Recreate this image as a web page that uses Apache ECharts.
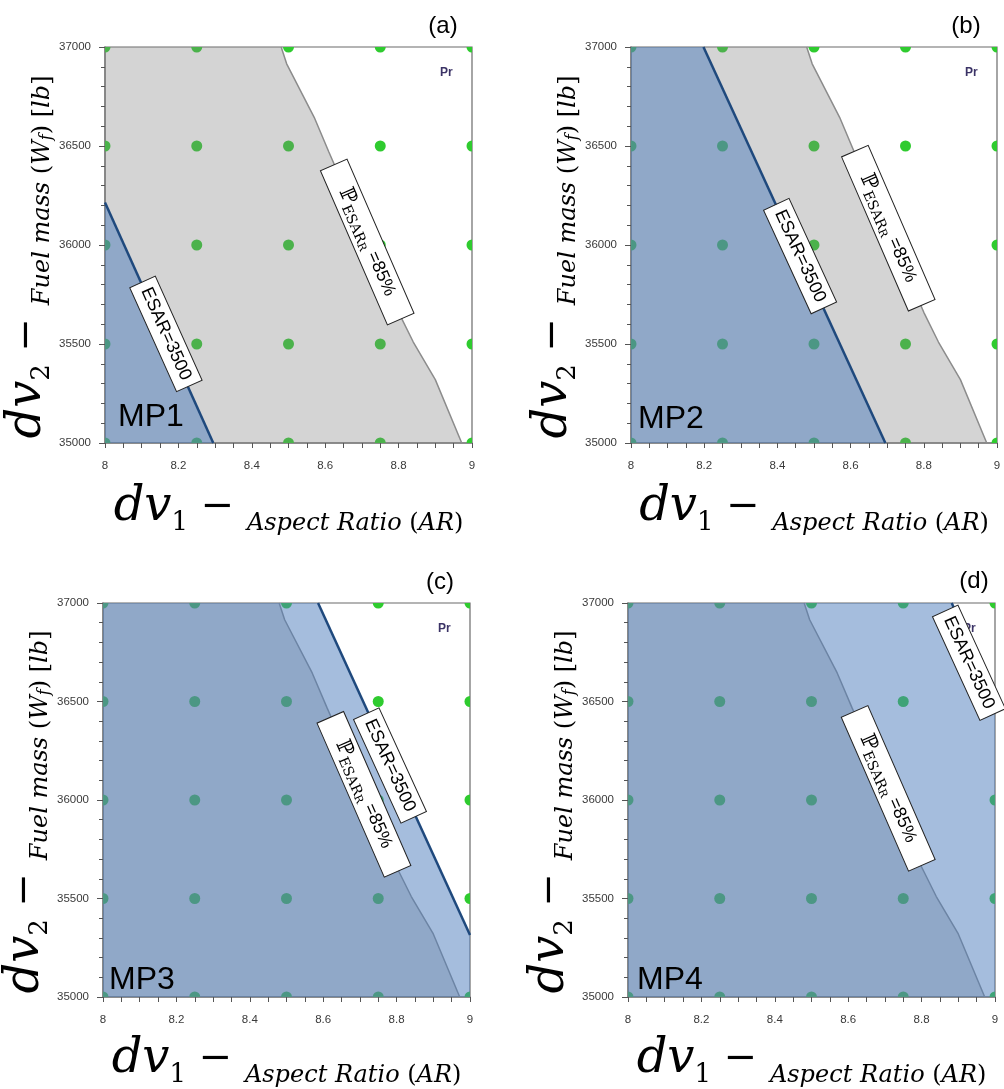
<!DOCTYPE html>
<html><head><meta charset="utf-8">
<script src="https://cdn.jsdelivr.net/npm/echarts@6/dist/echarts.min.js"></script>
<style>html,body{margin:0;padding:0;background:#fff}#c{width:1004px;height:1089px}</style>
</head><body><div id="c"></div>
<script>
// ---- data ----
const sampleAR = [8, 8.25, 8.5, 8.75, 9];
const sampleWf = [35000, 35500, 36000, 36500, 37000];
const panelTags = ['(a)', '(b)', '(c)', '(d)'];
const mpNames = ['MP1', 'MP2', 'MP3', 'MP4'];
// PESAR_R = 85% boundary (same in all panels)
const pesarLine = [[8.48,37000],[8.495,36915],[8.57,36645],[8.61,36470],[8.80,35660],[8.84,35510],[8.90,35320],[8.972,35000]];
// ESAR = 3500 boundary per panel
const esarLineA = [[8,36215],[8.295,35000]];
const esarLineB = [[8.198,37000],[8.695,35000]];
const esarLineC = [[8.586,37000],[9,35315]];
const esarLineD = [[8.882,37000],[9,36520]];
// label anchors (data coords)
const esarLabelAt = [[8.166,35551],[8.462,35944],[8.782,36175],[8.929,36697]];
const pesarLabelAt = [[8.7145,36015],[8.703,36085],[8.711,36029],[8.709,36059]];
const prAt = [8.93, 36870];

// ---- layout ----
const esarLines = [esarLineA, esarLineB, esarLineC, esarLineD];
const grids = [
  {left:105, top:47, width:367, height:396},
  {left:631, top:47, width:366, height:396},
  {left:103, top:603, width:367, height:398},
  {left:628, top:603, width:367, height:398}
];
const AR_MIN = 8, AR_MAX = 9, WF_MIN = 35000, WF_MAX = 37000;
const serif = 'DejaVu Serif';
const tickColor = '#555';
const labelStyle = {fontSize:11.5, fontFamily:'Liberation Sans', color:'#3a3a3a'};

const xRich = {
  dv:{fontFamily:serif, fontStyle:'italic', fontSize:48, lineHeight:56, color:'#000'},
  sub:{fontFamily:serif, fontSize:26, lineHeight:34, verticalAlign:'bottom', color:'#000'},
  op:{fontFamily:serif, fontSize:40, lineHeight:56, color:'#000'},
  t:{fontFamily:serif, fontStyle:'italic', fontSize:24, lineHeight:42, verticalAlign:'bottom', color:'#000'},
  p:{fontFamily:serif, fontSize:24, lineHeight:42, verticalAlign:'bottom', color:'#000'},
  fs:{fontFamily:serif, fontStyle:'italic', fontSize:16, lineHeight:34, verticalAlign:'bottom', color:'#000'}
};
const xName = '{dv|dv}{sub|1}{op| − }{t|Aspect Ratio }{p|(}{t|AR}{p|)}';
const yName = '{dv|dv}{sub|2}{op| − }{t|Fuel mass }{p|(}{t|W}{fs|f}{p|) [}{t|lb}{p|]}';

const xAxes = [], yAxes = [], series = [];
grids.forEach((g, i) => {
  xAxes.push({
    type:'value', gridIndex:i, min:AR_MIN, max:AR_MAX, interval:0.2,
    name:xName, nameLocation:'middle', nameGap:(i < 2 ? 37 : 35),
    nameTextStyle:{rich:xRich},
    axisLine:{show:true, lineStyle:{color:'#7f7f7f', width:1.5}},
    axisTick:{show:true, inside:false, length:5, lineStyle:{color:tickColor}},
    minorTick:{show:true, splitNumber:4, length:5, lineStyle:{color:tickColor}},
    splitLine:{show:false}, minorSplitLine:{show:false},
    axisLabel:Object.assign({margin:17, formatter:v => String(Math.round(v*10)/10)}, labelStyle)
  });
  yAxes.push({
    type:'value', gridIndex:i, min:WF_MIN, max:WF_MAX, interval:500,
    name:yName, nameLocation:'middle', nameGap:42, nameRotate:90,
    nameTextStyle:{rich:xRich, padding:[0,24,0,0]},
    axisLine:{show:true, lineStyle:{color:'#7f7f7f', width:1.5}},
    axisTick:{show:true, inside:false, length:6, lineStyle:{color:tickColor}},
    minorTick:{show:true, splitNumber:5, length:4, lineStyle:{color:tickColor}},
    splitLine:{show:false}, minorSplitLine:{show:false},
    axisLabel:Object.assign({margin:14, formatter:v => String(v)}, labelStyle)
  });
  const dots = [];
  sampleAR.forEach(a => sampleWf.forEach(w => dots.push([a, w])));
  series.push({
    type:'custom', xAxisIndex:i, yAxisIndex:i, clip:true, z:1, silent:true,
    data:dots,
    renderItem:(params, api) => {
      const p = api.coord([api.value(0), api.value(1)]);
      return {type:'circle', shape:{cx:p[0], cy:p[1], r:5.5}, style:{fill:'#2fcb2f'}};
    }
  });
  series.push({
    type:'line', xAxisIndex:i, yAxisIndex:i, z:2, silent:true, symbol:'none',
    data:[[AR_MIN, WF_MAX]].concat(pesarLine),
    lineStyle:{width:0, opacity:0},
    areaStyle:{color:'#808080', opacity:0.34, origin:'start'}
  });
  series.push({
    type:'line', xAxisIndex:i, yAxisIndex:i, z:3, silent:true, symbol:'none',
    data:pesarLine, lineStyle:{color:'#8c8c8c', width:1.5}
  });
  const el = esarLines[i];
  const area = (el[0][0] > AR_MIN ? [[AR_MIN, WF_MAX]] : []).concat(el);
  series.push({
    type:'line', xAxisIndex:i, yAxisIndex:i, z:4, silent:true, symbol:'none',
    data:area, lineStyle:{width:0, opacity:0},
    areaStyle:{color:'#4f7ebd', opacity:0.51, origin:'start'}
  });
  series.push({
    type:'line', xAxisIndex:i, yAxisIndex:i, z:5, silent:true, symbol:'none',
    data:el, lineStyle:{color:'#1f497d', width:2.5}
  });
});

const chart = echarts.init(document.getElementById('c'), null, {renderer:'canvas'});
chart.setOption({
  animation:false,
  backgroundColor:'#fff',
  grid:grids.map(g => Object.assign({show:true, borderColor:'#6b6b6b', borderWidth:1.2, containLabel:false}, g)),
  xAxis:xAxes, yAxis:yAxes, series:series
});

// ---- annotations ----
function angleOf(i, p0, p1) {
  const a = chart.convertToPixel({gridIndex:i}, p0);
  const b = chart.convertToPixel({gridIndex:i}, p1);
  return Math.atan2(b[1]-a[1], b[0]-a[0]);
}
function boxLabel(i, at, ang, w, h, textStyle) {
  const c = chart.convertToPixel({gridIndex:i}, at);
  return {
    type:'group', x:c[0], y:c[1], rotation:-ang, z:20,
    children:[
      {type:'rect', z:20, shape:{x:-w/2, y:-h/2, width:w, height:h}, style:{fill:'#fff', stroke:'#222', lineWidth:1}},
      {type:'text', z:21, x:0, y:0, style:Object.assign({align:'center', verticalAlign:'middle', fill:'#000'}, textStyle)}
    ]
  };
}
const tagPos = [[443,26],[966,26],[440,582],[974,581]];
const mpPos = [[151,417],[671,419],[142,980],[670,980]];
const graphics = [];
for (let i = 0; i < 4; i++) {
  const el = esarLines[i];
  const aE = angleOf(i, el[0], el[el.length-1]);
  const aP = angleOf(i, pesarLine[3], pesarLine[4]);
  const pr = chart.convertToPixel({gridIndex:i}, prAt);
  graphics.push({type:'text', x:pr[0], y:pr[1], z:10,
    style:{text:'Pr', align:'center', verticalAlign:'middle', fontSize:12, fontWeight:'bold', fontFamily:'Liberation Sans', fill:'#3b3366'}});
  graphics.push(boxLabel(i, esarLabelAt[i], aE, 114, 28,
    {text:'ESAR=3500', fontSize:18, fontFamily:'Liberation Sans'}));
  graphics.push(boxLabel(i, pesarLabelAt[i], aP, 168, 29, {
    text:'{P|ℙ}{s|ESAR}{r|R}{n| =85%}',
    rich:{
      P:{fontFamily:serif, fontSize:21, lineHeight:26, fill:'#000'},
      s:{fontFamily:serif, fontSize:14, lineHeight:22, verticalAlign:'bottom', fill:'#000'},
      r:{fontFamily:serif, fontSize:11, lineHeight:16, verticalAlign:'bottom', fill:'#000'},
      n:{fontFamily:'Liberation Sans', fontSize:18, lineHeight:26, fill:'#000'}
    }
  }));
  graphics.push({type:'text', x:tagPos[i][0], y:tagPos[i][1], z:10,
    style:{text:panelTags[i], align:'center', verticalAlign:'middle', fontSize:24, fontFamily:'Liberation Sans', fill:'#000'}});
  graphics.push({type:'text', x:mpPos[i][0], y:mpPos[i][1], z:21,
    style:{text:mpNames[i], align:'center', verticalAlign:'middle', fontSize:32, fontFamily:'Liberation Sans', fill:'#000'}});
}
chart.setOption({graphic:graphics});
</script>
</body></html>
